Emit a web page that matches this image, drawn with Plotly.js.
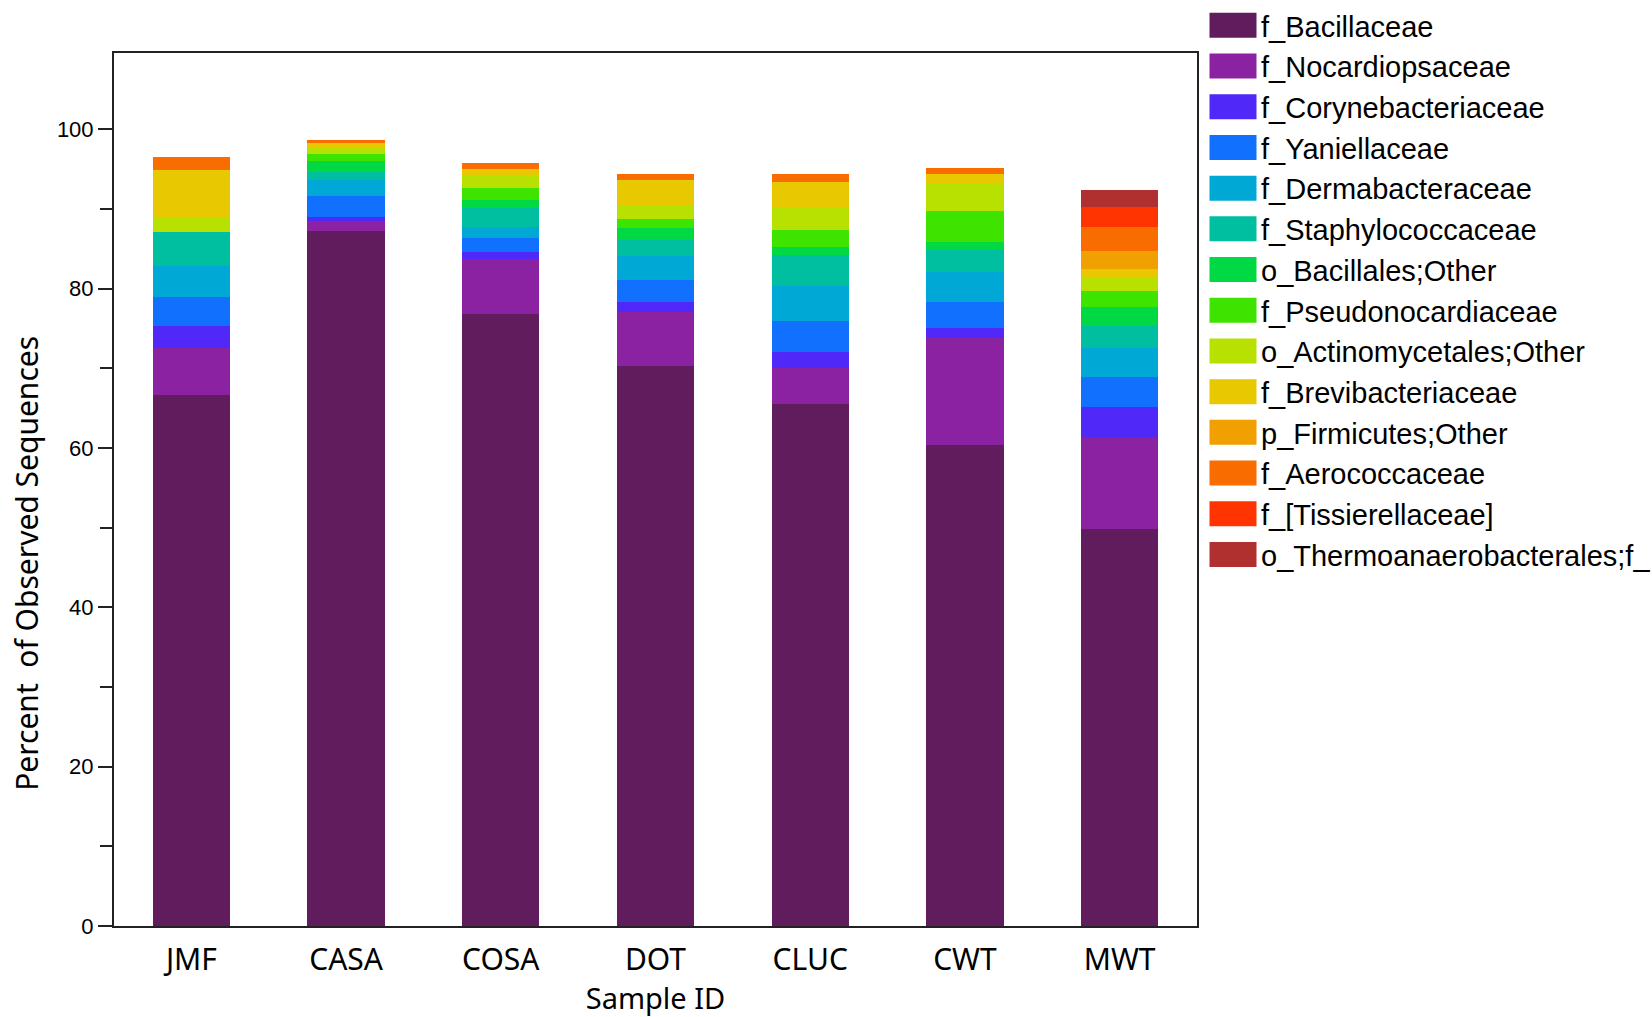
<!DOCTYPE html>
<html>
<head>
<meta charset="utf-8">
<script src="https://cdn.plot.ly/plotly-3.0.1.min.js"></script>
<style>html,body{margin:0;padding:0;background:#fff;}</style>
</head>
<body>
<div id="chart" style="width:1652px;height:1017px;"></div>
<script>
var samples = ["JMF", "CASA", "COSA", "DOT", "CLUC", "CWT", "MWT"];

var taxa = ["f_Bacillaceae", "f_Nocardiopsaceae", "f_Corynebacteriaceae", "f_Yaniellaceae",
  "f_Dermabacteraceae", "f_Staphylococcaceae", "o_Bacillales;Other", "f_Pseudonocardiaceae",
  "o_Actinomycetales;Other", "f_Brevibacteriaceae", "p_Firmicutes;Other", "f_Aerococcaceae",
  "f_[Tissierellaceae]", "o_Thermoanaerobacterales;f_"];

var taxaColors = ["#611c5e", "#8a22a2", "#5028f8", "#1270ff", "#00a8d6", "#00bfa0", "#00d944",
  "#3ee400", "#b8e000", "#e8c800", "#f0a000", "#f86c00", "#ff3400", "#b03030"];

// percent per sample, order: JMF, CASA, COSA, DOT, CLUC, CWT, MWT
var bacillaceae        = [66.7, 87.2, 76.8, 70.3, 65.5, 60.4, 49.9];
var nocardiopsaceae    = [5.9, 1.3, 6.9, 6.8, 4.6, 13.4, 11.5];
var corynebacteriaceae = [2.7, 0.5, 0.9, 1.2, 2.0, 1.3, 3.7];
var yaniellaceae       = [3.7, 2.6, 1.8, 2.8, 3.8, 3.2, 3.8];
var dermabacteraceae   = [3.85, 2.0, 1.4, 3.0, 4.4, 3.8, 3.7];
var staphylococcaceae  = [4.3, 1.05, 2.4, 2.0, 3.9, 2.8, 2.7];
var bacillalesOther    = [0, 1.35, 0.9, 1.5, 1.0, 1.0, 2.4];
var pseudonocardiaceae = [0, 0.9, 1.6, 1.2, 2.2, 3.9, 2.0];
var actinomycetalesOther = [1.9, 0.8, 1.6, 1.6, 2.9, 3.3, 1.6];
var brevibacteriaceae  = [5.9, 0.65, 0.8, 3.3, 3.1, 1.3, 1.2];
var firmicutesOther    = [0, 0, 0, 0, 0, 0, 2.3];
var aerococcaceae      = [1.65, 0.35, 0.66, 0.7, 1.0, 0.8, 3.0];
var tissierellaceae    = [0, 0, 0, 0, 0, 0, 2.5];
var thermoanaerobacterales = [0, 0, 0, 0, 0, 0, 2.15];

var seriesValues = [bacillaceae, nocardiopsaceae, corynebacteriaceae, yaniellaceae,
  dermabacteraceae, staphylococcaceae, bacillalesOther, pseudonocardiaceae,
  actinomycetalesOther, brevibacteriaceae, firmicutesOther, aerococcaceae,
  tissierellaceae, thermoanaerobacterales];

var traces = taxa.map(function (name, i) {
  return {
    type: "bar",
    name: name,
    x: samples,
    y: seriesValues[i],
    marker: { color: taxaColors[i], line: { width: 0 } },
    hovertemplate: "%{x}<br>" + name + ": %{y}%<extra></extra>"
  };
});

var axisColor = "#222";
var layout = {
  width: 1652,
  height: 1017,
  margin: { l: 114, r: 455, t: 53, b: 91, pad: 0 },
  paper_bgcolor: "#ffffff",
  plot_bgcolor: "#ffffff",
  barmode: "stack",
  bargap: 0.5,
  showlegend: true,
  legend: {
    xref: "container", yref: "container",
    x: 1205 / 1652, xanchor: "left",
    y: 1.0, yanchor: "top",
    maxheight: 1,
    traceorder: "normal",
    itemwidth: 46,
    bgcolor: "rgba(0,0,0,0)",
    borderwidth: 0,
    font: { family: "Liberation Sans, Arial, sans-serif", size: 29, color: "#000" }
  },
  xaxis: {
    type: "category",
    showline: true, mirror: true, linecolor: axisColor, linewidth: 2,
    ticks: "", showgrid: false, zeroline: false,
    ticklabelstandoff: 6,
    tickfont: { family: "Noto Sans, Open Sans, sans-serif", size: 30, color: "#000" },
    title: { text: "Sample ID", standoff: 6,
      font: { family: "Noto Sans, Open Sans, sans-serif", size: 29, color: "#000" } }
  },
  yaxis: {
    range: [0, 109.6],
    tick0: 0, dtick: 20,
    showline: true, mirror: true, linecolor: axisColor, linewidth: 2,
    ticks: "outside", ticklen: 14, tickwidth: 2, tickcolor: axisColor,
    minor: { dtick: 10, ticks: "outside", ticklen: 12, tickwidth: 2, tickcolor: axisColor, showgrid: false },
    showgrid: false, zeroline: false,
    tickfont: { family: "Liberation Sans, Arial, sans-serif", size: 22, color: "#000" },
    title: { text: "" }
  },
  annotations: [{
    text: "Percent  of Observed Sequences",
    xref: "paper", yref: "paper",
    x: -0.0815, y: 0.4157,
    xanchor: "center", yanchor: "middle",
    textangle: -90, showarrow: false,
    font: { family: "Noto Sans, Open Sans, sans-serif", size: 30, color: "#000" }
  }]
};

Plotly.newPlot("chart", traces, layout, { displayModeBar: false, staticPlot: true }).then(function (gd) {
  var paths = gd.querySelectorAll(".legend .traces .legendpoints path");
  paths.forEach(function (p) {
    p.setAttribute("d", "M23.5,12.5H-23.5V-12.5H23.5Z");
  });
});
</script>
</body>
</html>
